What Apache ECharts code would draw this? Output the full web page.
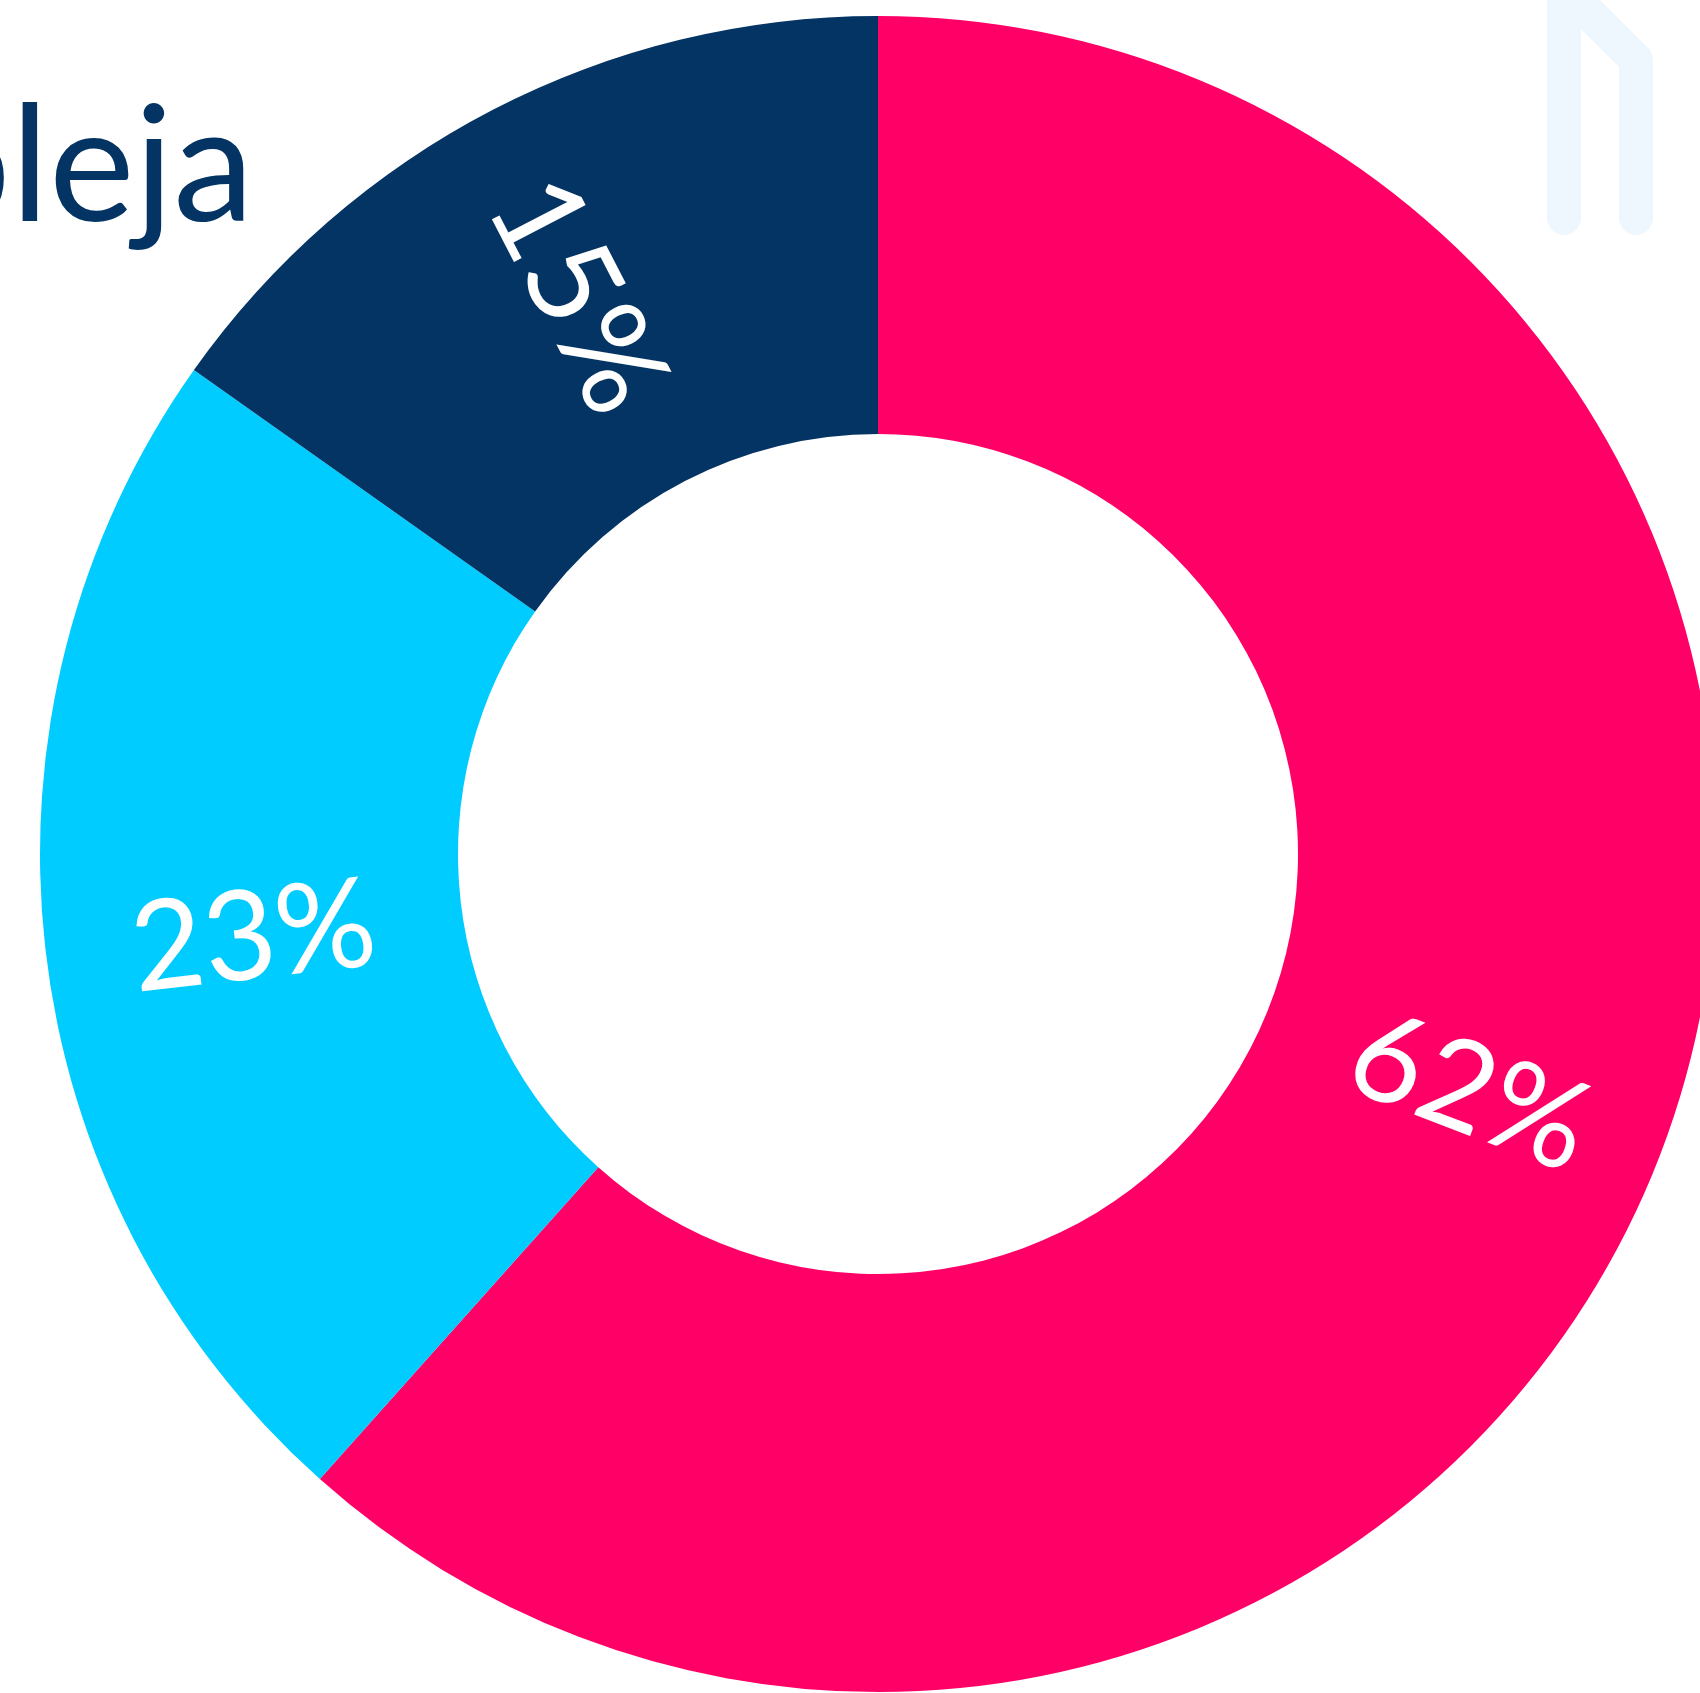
<!DOCTYPE html>
<html>
<head>
<meta charset="utf-8">
<script src="https://cdn.jsdelivr.net/npm/echarts@6/dist/echarts.min.js"></script>
<style>
  html, body { margin: 0; padding: 0; background: #fff; }
  #main { width: 1700px; height: 1693px; }
</style>
</head>
<body>
<div id="main"></div>
<script>
var names = ['A', 'B', 'C'];
var values = [61.6, 23.2, 15.2];
var colors = ['#FF0066', '#00CCFF', '#043463'];
// small nudges of each label (in the label's rotated frame)
var labelOffsets = [[6, 12], [2, 13], [-2, 11]];

var myChart = echarts.init(document.getElementById('main'));

var seriesData = names.map(function (n, i) {
    return {
        name: n,
        value: values[i],
        itemStyle: { color: colors[i] },
        label: { offset: labelOffsets[i] }
    };
});

option = {
    backgroundColor: '#ffffff',
    animation: false,
    graphic: [
        {
            type: 'text',
            left: -80,
            top: 88,
            style: {
                text: 'bleja',
                fill: '#043463',
                font: '162px Lato'
            }
        },
        {
            type: 'polyline',
            shape: { points: [[1564, 218], [1564, -12], [1636, 60], [1636, 218]] },
            style: { stroke: '#EDF7FD', lineWidth: 34, fill: null, lineCap: 'round', lineJoin: 'round' }
        }
    ],
    series: [
        {
            type: 'pie',
            center: [878, 854],
            radius: [420, 838],
            startAngle: 90,
            clockwise: true,
            percentPrecision: 0,
            avoidLabelOverlap: false,
            silent: true,
            label: {
                show: true,
                position: 'inside',
                rotate: 'radial',
                formatter: '{d}%',
                color: '#ffffff',
                fontSize: 125,
                fontFamily: 'Lato'
            },
            labelLine: { show: false },
            data: seriesData
        }
    ]
};
myChart.setOption(option);
</script>
</body>
</html>
